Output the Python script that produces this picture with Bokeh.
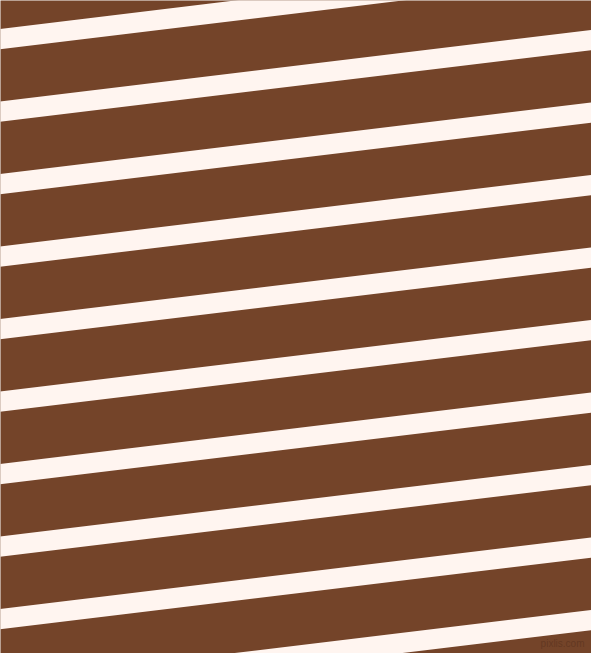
from bokeh.plotting import figure
from bokeh.models import ColumnDataSource, Range1d
from bokeh.core.properties import value
from bokeh.embed import file_html
from bokeh.resources import INLINE

# ---- data (reference pixel space, 591 x 653, y grows downward) ----
stripe_centers_at_left = [-34, 38.5, 111, 183.5, 256, 328.5, 401, 473.5, 546, 618.5, 691]
stripe_slope = 0.121          # rise per px (stripes go up to the right)
stripe_thickness = 20.3       # vertical thickness in px
canvas_w = 591
canvas_h = 653
watermark_text = ["pixlis.com"]
watermark_x = [584]
watermark_y = [642.5]

bg_color = "#744429"
stripe_color = "#FFF5F0"

# ---- build stripe polygons from the data ----
xs, ys = [], []
x_left, x_right = -20, canvas_w + 20
for c in stripe_centers_at_left:
    y_l = c + stripe_slope * (0 - x_left)
    y_r = c - stripe_slope * x_right
    half = stripe_thickness / 2
    xs.append([x_left, x_right, x_right, x_left])
    ys.append([y_l - half, y_r - half, y_r + half, y_l + half])
src = ColumnDataSource(dict(xs=xs, ys=ys))

p = figure(width=canvas_w, height=canvas_h,
           x_range=Range1d(0, canvas_w),
           y_range=Range1d(canvas_h, 0),
           output_backend="svg", toolbar_location=None,
           min_border=0, min_border_left=0, min_border_right=0,
           min_border_top=0, min_border_bottom=0)
p.axis.visible = False
p.grid.visible = False
p.outline_line_color = None
p.background_fill_color = bg_color
p.border_fill_color = bg_color

p.patches("xs", "ys", source=src, fill_color=stripe_color, line_color=None)

p.text(x=watermark_x, y=watermark_y, text=watermark_text,
       text_align="right", text_baseline="alphabetic",
       text_font=value("Liberation Sans"), text_font_size="10px",
       text_color="#5e3520", text_alpha=0.8)

open("out.html", "w").write(file_html(p, INLINE))
